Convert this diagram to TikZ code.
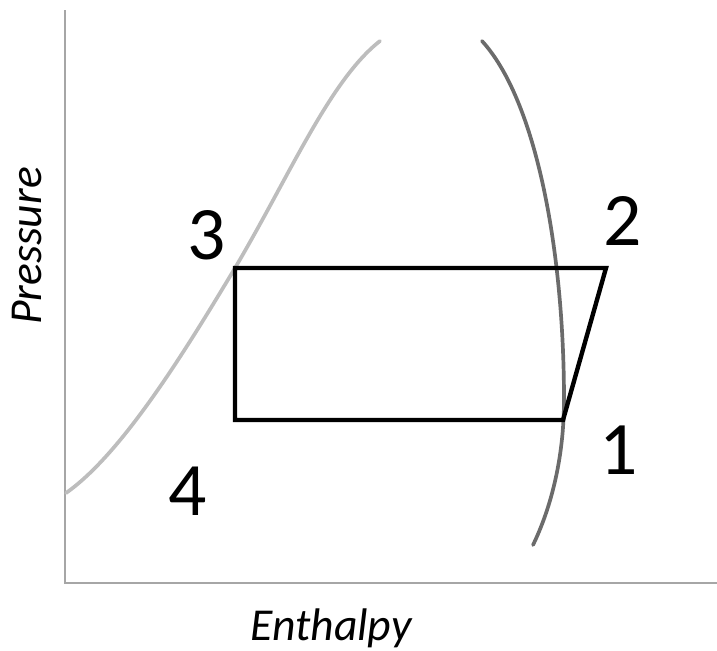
\documentclass[tikz,border=0pt]{standalone}
\usepackage{fontspec}
\setmainfont{Carlito}
\usetikzlibrary{positioning}
\definecolor{liqgray}{HTML}{BDBDBD}
\definecolor{vapgray}{HTML}{6B6B6B}
\definecolor{axgray}{HTML}{A6A6A6}
\tikzset{axisline/.style={draw=axgray,line width=0.8pt},
  liqline/.style={draw=liqgray,line width=2.1pt,line cap=round},
  vapline/.style={draw=vapgray,line width=2.1pt,line cap=round},
  cycleline/.style={draw=black,line width=2.5pt,line join=miter},
  numlabel/.style={font=\fontsize{43}{45}\selectfont,inner sep=0pt},
  axislabel/.style={font=\fontsize{26}{30}\selectfont\itshape,inner sep=0pt}}

\begin{document}
\begin{tikzpicture}[x=0.02cm,y=-0.02cm]
\useasboundingbox (0,0) rectangle (717,650);
% axes
\coordinate (top) at (65,10);
\coordinate (origin) at (65,583);
\coordinate (right) at (717,583);
\draw[axisline] (top) -- (origin) -- (right);
\node[axislabel,rotate=90] (pres) at (27,246) {Pressure};
\node[axislabel] (enth) at (331,628) {Enthalpy};
% saturation curves
\draw[liqline] (66,493) .. controls (120,455) and (180,360) .. (235,268)
  .. controls (290,175) and (330,80) .. (380,41);
\draw[vapline] (482,41) .. controls (536,100) and (564,250) .. (564,400)
  .. controls (564,460) and (550,510) .. (533,545);
% cycle
\coordinate (p1) at (563,420);
\coordinate (p2) at (606,268);
\coordinate (p3) at (235,268);
\coordinate (p4) at (235,420);
\draw[cycleline] (p3) -- (p2) -- (p1) -- (p4) -- cycle;
\node[numlabel] (n1) at (619,450) {1};
\node[numlabel] (n2) at (623,221) {2};
\node[numlabel] (n3) at (207,235) {3};
\node[numlabel] (n4) at (188,491) {4};
\end{tikzpicture}
\end{document}
